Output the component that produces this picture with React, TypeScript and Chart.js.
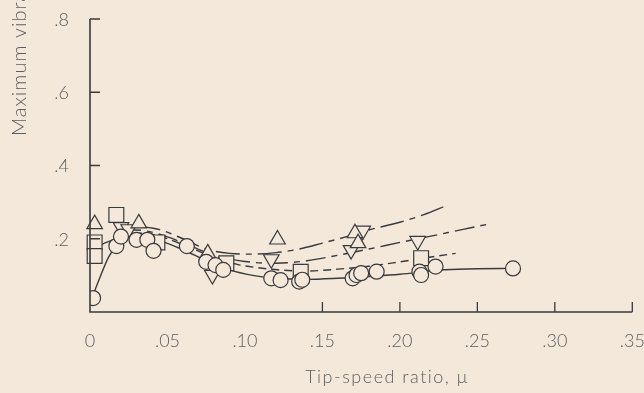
import React, { useEffect, useRef } from "react";
import { Chart, registerables } from "chart.js";

Chart.register(...registerables);

// ---- axis ticks / labels ----
const X_TICK_VALUES = [0, 0.05, 0.1, 0.15, 0.2, 0.25, 0.3, 0.35];
const X_TICK_LABELS = ["0", ".05", ".10", ".15", ".20", ".25", ".30", ".35"];
const X_TICK_MARKS = [0.15, 0.2, 0.25, 0.3, 0.35];
const Y_TICK_VALUES = [0.2, 0.4, 0.6, 0.8];
const Y_TICK_LABELS = [".2", ".4", ".6", ".8"];
const X_TITLE = "Tip-speed ratio, \u03bc";
const Y_TITLE = "Maximum vibration";

// ---- measured points ----
const circleX = [0.002, 0.017, 0.02, 0.03, 0.037, 0.041, 0.0625, 0.075, 0.081, 0.086, 0.117, 0.123, 0.135, 0.137, 0.1695, 0.172, 0.175, 0.185, 0.2126, 0.2137, 0.223, 0.273];
const circleY = [0.038, 0.18, 0.206, 0.197, 0.197, 0.167, 0.18, 0.137, 0.128, 0.115, 0.092, 0.087, 0.083, 0.088, 0.092, 0.101, 0.106, 0.11, 0.11, 0.101, 0.124, 0.119];

const squareX = [0.003, 0.003, 0.017, 0.0435, 0.088, 0.136, 0.2137];
const squareY = [0.19, 0.153, 0.265, 0.19, 0.133, 0.11, 0.147];

const upTriX = [0.003, 0.0315, 0.076, 0.121, 0.171, 0.173];
const upTriY = [0.24, 0.242, 0.16, 0.198, 0.215, 0.188];

const downTriX = [0.02, 0.025, 0.079, 0.117, 0.1685, 0.176, 0.2115];
const downTriY = [0.232, 0.226, 0.101, 0.144, 0.169, 0.222, 0.194];

// ---- faired curves ----
const solidCurveX = [0.001, 0.006, 0.012, 0.018, 0.025, 0.033, 0.045, 0.06, 0.075, 0.09, 0.105, 0.12, 0.14, 0.16, 0.18, 0.2, 0.215, 0.225, 0.25, 0.273];
const solidCurveY = [0.035, 0.09, 0.15, 0.185, 0.205, 0.207, 0.195, 0.17, 0.14, 0.115, 0.1, 0.092, 0.089, 0.092, 0.097, 0.103, 0.11, 0.115, 0.118, 0.119];

const squareCurveX = [0.02, 0.035, 0.05, 0.065, 0.08, 0.095, 0.11, 0.125, 0.14, 0.16, 0.18, 0.2, 0.22, 0.236];
const squareCurveY = [0.215, 0.215, 0.2, 0.175, 0.15, 0.13, 0.12, 0.114, 0.112, 0.117, 0.125, 0.137, 0.15, 0.16];

const downTriCurveX = [0.02, 0.035, 0.05, 0.065, 0.08, 0.1, 0.12, 0.14, 0.16, 0.18, 0.2, 0.22, 0.24, 0.256];
const downTriCurveY = [0.225, 0.222, 0.205, 0.18, 0.155, 0.138, 0.133, 0.14, 0.155, 0.172, 0.19, 0.207, 0.225, 0.239];

const upTriCurveX = [0.03, 0.045, 0.06, 0.075, 0.09, 0.105, 0.12, 0.135, 0.15, 0.165, 0.18, 0.2, 0.215, 0.231];
const upTriCurveY = [0.235, 0.225, 0.2, 0.172, 0.16, 0.158, 0.162, 0.172, 0.188, 0.205, 0.224, 0.245, 0.265, 0.292];

const leftCurveX = [0.001, 0.008, 0.017];
const leftCurveY = [0.164, 0.185, 0.2];

const BG = "#f4e8da";
const INK = "#3a3a3a";
const TEXT = "#5e5e5e";
const FONT = "Lato, 'DejaVu Sans', sans-serif";

const pts = (xs: number[], ys: number[]) => xs.map((x, i) => ({ x, y: ys[i] }));

const markerSet = (data: any, style: string, radius: number, rotation = 0, clip: any = false) => ({
  data,
  showLine: false,
  pointStyle: style,
  pointRadius: radius,
  pointRotation: rotation,
  pointBackgroundColor: BG,
  pointBorderColor: INK,
  pointBorderWidth: 1.2,
  clip,
  order: 0,
});

const curveSet = (data: any, dash: number[]) => ({
  data,
  showLine: true,
  borderColor: INK,
  borderWidth: 1.4,
  borderDash: dash,
  pointRadius: 0,
  tension: 0.4,
  cubicInterpolationMode: "monotone",
  fill: false,
  order: 1,
});

const frame = {
  id: "frame",
  beforeDraw(chart: any) {
    const { ctx, width, height } = chart;
    ctx.save();
    ctx.fillStyle = BG;
    ctx.fillRect(0, 0, width, height);
    ctx.restore();
  },
  afterDatasetsDraw(chart: any) {
    const { ctx } = chart;
    const xs = chart.scales.x;
    const ys = chart.scales.y;
    const x0 = xs.getPixelForValue(0);
    const y0 = ys.getPixelForValue(0);
    ctx.save();
    ctx.strokeStyle = INK;
    ctx.lineWidth = 1.6;
    ctx.beginPath();
    ctx.moveTo(x0, ys.getPixelForValue(0.8));
    ctx.lineTo(x0, y0);
    ctx.lineTo(xs.getPixelForValue(0.35), y0);
    ctx.stroke();
    ctx.lineWidth = 1.3;
    ctx.beginPath();
    X_TICK_MARKS.forEach((v) => {
      const px = xs.getPixelForValue(v);
      ctx.moveTo(px, y0);
      ctx.lineTo(px, y0 - 10);
    });
    Y_TICK_VALUES.forEach((v) => {
      const py = ys.getPixelForValue(v);
      ctx.moveTo(x0, py);
      ctx.lineTo(x0 + 10, py);
    });
    ctx.stroke();

    ctx.fillStyle = TEXT;
    ctx.font = `300 18px ${FONT}`;
    ctx.textBaseline = "middle";
    ctx.textAlign = "center";
    X_TICK_VALUES.forEach((v, i) => {
      ctx.fillText(X_TICK_LABELS[i], xs.getPixelForValue(v), y0 + 29);
    });
    ctx.textAlign = "right";
    Y_TICK_VALUES.forEach((v, i) => {
      ctx.fillText(Y_TICK_LABELS[i], 69, ys.getPixelForValue(v) + 1);
    });

    ctx.font = `300 18px ${FONT}`;
    (ctx as any).letterSpacing = "1.5px";
    ctx.textAlign = "center";
    ctx.fillText(X_TITLE, 387, 377);

    ctx.translate(26, 136);
    ctx.rotate(-Math.PI / 2);
    ctx.font = `300 20px ${FONT}`;
    (ctx as any).letterSpacing = "1px";
    ctx.textAlign = "left";
    ctx.textBaseline = "alphabetic";
    ctx.fillText(Y_TITLE, 0, 0);
    ctx.restore();
  },
};

export default function App() {
  const ref = useRef<HTMLCanvasElement | null>(null);
  useEffect(() => {
    if (!ref.current) return;
    const chart = new Chart(ref.current, {
      type: "scatter",
      data: {
        datasets: [
          curveSet(pts(solidCurveX, solidCurveY), []),
          curveSet(pts(leftCurveX, leftCurveY), []),
          curveSet(pts(squareCurveX, squareCurveY), [8, 5]),
          curveSet(pts(downTriCurveX, downTriCurveY), [20, 6, 6, 6]),
          curveSet(pts(upTriCurveX, upTriCurveY), [24, 6, 6, 6]),
          markerSet(pts(circleX, circleY), "circle", 7.5, 0, { left: 0, top: false, right: false, bottom: false }),
          markerSet(pts(squareX, squareY), "rect", 10.5),
          markerSet(pts(upTriX, upTriY), "triangle", 9),
          markerSet(pts(downTriX, downTriY), "triangle", 9, 180),
        ] as any,
      },
      options: {
        animation: false,
        responsive: false,
        events: [],
        layout: { padding: { left: 90, top: 19, right: 11, bottom: 81 } },
        plugins: { legend: { display: false }, tooltip: { enabled: false } },
        scales: {
          x: { type: "linear", min: 0, max: 0.35, display: false },
          y: { type: "linear", min: 0, max: 0.8, display: false },
        },
      },
      plugins: [frame],
    });
    return () => chart.destroy();
  }, []);
  return (
    <div style={{ position: "fixed", left: 0, top: 0, width: 644, height: 393 }}>
      <canvas ref={ref} width={644} height={393} />
    </div>
  );
}
